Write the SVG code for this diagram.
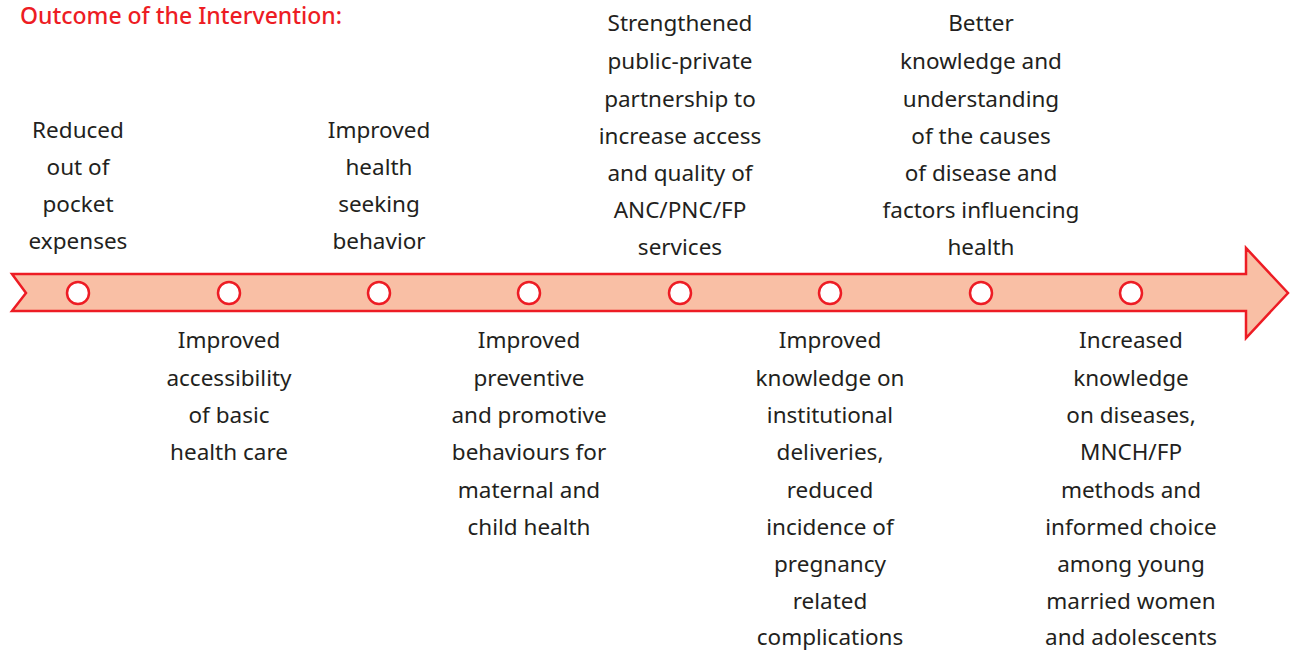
<svg xmlns="http://www.w3.org/2000/svg" width="1294" height="651" viewBox="0 0 1294 651">
<style>
.t{font-family:"Noto Sans","Open Sans",sans-serif;font-size:22.5px;fill:#231f20;text-anchor:middle}
.title{font-family:"Noto Sans","Open Sans",sans-serif;font-size:23px;font-weight:500;fill:#ed1c24}
.dot{fill:#ffffff;stroke:#ed1c24;stroke-width:2.5}
</style>
<rect width="1294" height="651" fill="#ffffff"/>
<text class="title" x="20" y="24">Outcome of the Intervention:</text>
<g id="connectors">
<path d="M12,274 L1246,274 L1246,248 L1288,293 L1246,338 L1246,311 L12,311 L26,293 Z" fill="#f9bfa5" stroke="#ed1c24" stroke-width="2.5" stroke-linejoin="miter"/>
</g>
<g id="n1"><circle class="dot" cx="78" cy="293" r="11"/>
<text class="t" x="78" y="138">Reduced</text><text class="t" x="78" y="175">out of</text><text class="t" x="78" y="212">pocket</text><text class="t" x="78" y="249">expenses</text></g>
<g id="n2"><circle class="dot" cx="229" cy="293" r="11"/>
<text class="t" x="229" y="348">Improved</text><text class="t" x="229" y="385.5">accessibility</text><text class="t" x="229" y="423">of basic</text><text class="t" x="229" y="460">health care</text></g>
<g id="n3"><circle class="dot" cx="379" cy="293" r="11"/>
<text class="t" x="379" y="138">Improved</text><text class="t" x="379" y="175">health</text><text class="t" x="379" y="212">seeking</text><text class="t" x="379" y="249">behavior</text></g>
<g id="n4"><circle class="dot" cx="529" cy="293" r="11"/>
<text class="t" x="529" y="348">Improved</text><text class="t" x="529" y="385.5">preventive</text><text class="t" x="529" y="423">and promotive</text><text class="t" x="529" y="460">behaviours for</text><text class="t" x="529" y="498">maternal and</text><text class="t" x="529" y="535">child health</text></g>
<g id="n5"><circle class="dot" cx="680" cy="293" r="11"/>
<text class="t" x="680" y="31">Strengthened</text><text class="t" x="680" y="69">public-private</text><text class="t" x="680" y="107">partnership to</text><text class="t" x="680" y="144">increase access</text><text class="t" x="680" y="181">and quality of</text><text class="t" x="680" y="218">ANC/PNC/FP</text><text class="t" x="680" y="255">services</text></g>
<g id="n6"><circle class="dot" cx="830" cy="293" r="11"/>
<text class="t" x="830" y="348">Improved</text><text class="t" x="830" y="385.5">knowledge on</text><text class="t" x="830" y="423">institutional</text><text class="t" x="830" y="460">deliveries,</text><text class="t" x="830" y="498">reduced</text><text class="t" x="830" y="535">incidence of</text><text class="t" x="830" y="572">pregnancy</text><text class="t" x="830" y="609">related</text><text class="t" x="830" y="645">complications</text></g>
<g id="n7"><circle class="dot" cx="981" cy="293" r="11"/>
<text class="t" x="981" y="31">Better</text><text class="t" x="981" y="69">knowledge and</text><text class="t" x="981" y="107">understanding</text><text class="t" x="981" y="144">of the causes</text><text class="t" x="981" y="181">of disease and</text><text class="t" x="981" y="218">factors influencing</text><text class="t" x="981" y="255">health</text></g>
<g id="n8"><circle class="dot" cx="1131" cy="293" r="11"/>
<text class="t" x="1131" y="348">Increased</text><text class="t" x="1131" y="385.5">knowledge</text><text class="t" x="1131" y="423">on diseases,</text><text class="t" x="1131" y="460">MNCH/FP</text><text class="t" x="1131" y="498">methods and</text><text class="t" x="1131" y="535">informed choice</text><text class="t" x="1131" y="572">among young</text><text class="t" x="1131" y="609">married women</text><text class="t" x="1131" y="645">and adolescents</text></g>
</svg>
